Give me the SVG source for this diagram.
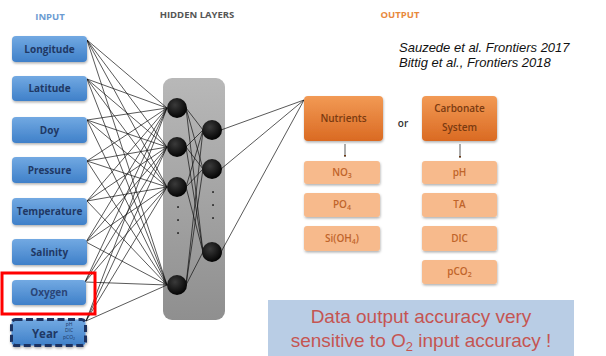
<svg xmlns="http://www.w3.org/2000/svg" width="606" height="356" viewBox="0 0 606 356">
<defs>
<linearGradient id="gBlue" x1="0" y1="0" x2="0" y2="1"><stop offset="0" stop-color="#72A9E2"/><stop offset="1" stop-color="#3F80C9"/></linearGradient>
<linearGradient id="gOrange" x1="0" y1="0" x2="0" y2="1"><stop offset="0" stop-color="#F29A55"/><stop offset="1" stop-color="#DA6A22"/></linearGradient>
<linearGradient id="gGray" x1="0" y1="0" x2="0" y2="1"><stop offset="0" stop-color="#B8B8B8"/><stop offset="1" stop-color="#8F8F8F"/></linearGradient>
<radialGradient id="gNode" cx="0.4" cy="0.35" r="0.7"><stop offset="0" stop-color="#3a3a3a"/><stop offset="1" stop-color="#000"/></radialGradient>
<filter id="sh" x="-10%" y="-10%" width="130%" height="140%"><feDropShadow dx="0.5" dy="1.5" stdDeviation="1" flood-color="#000" flood-opacity="0.3"/></filter>
<marker id="arr" viewBox="0 0 10 10" refX="9" refY="5" markerWidth="3.5" markerHeight="3.5" orient="auto"><path d="M0,0 L10,5 L0,10 z" fill="#6B3812"/></marker>
</defs>
<style>
.in rect{fill:url(#gBlue);filter:url(#sh)}
.in text{font-family:"Open Sans","Liberation Sans",sans-serif;font-weight:bold;font-size:10px;fill:#1F3864;text-anchor:middle}
.hd{font-family:"Open Sans","Liberation Sans",sans-serif;font-weight:bold;font-size:9.5px;text-anchor:middle}
.conn line{stroke:#111;stroke-width:0.7}
.node circle{fill:url(#gNode)}
.dk rect{fill:url(#gOrange);filter:url(#sh)}
.dk text{font-family:"Open Sans","Liberation Sans",sans-serif;font-weight:600;font-size:10px;fill:#7A3A10;text-anchor:middle}
.lt rect{fill:#F7BA8C;filter:url(#sh)}
.lt text{font-family:"Open Sans","Liberation Sans",sans-serif;font-weight:600;font-size:10px;fill:#C0642A;text-anchor:middle}
.dot{fill:#222}
</style>
<rect width="606" height="356" fill="#fff"/>
<text class="hd" x="50" y="20" fill="#6C9BD2">INPUT</text>
<text class="hd" x="197" y="18" fill="#555">HIDDEN LAYERS</text>
<text class="hd" x="400" y="18" fill="#E8893C">OUTPUT</text>
<g font-family="Liberation Sans, Arial, sans-serif" font-style="italic" font-size="13" fill="#111">
<text x="399" y="52">Sauzede et al. Frontiers 2017</text>
<text x="399" y="67">Bittig et al., Frontiers 2018</text>
</g>
<g id="hidden-panel"><rect x="163" y="78" width="62" height="242" rx="9" fill="url(#gGray)"/></g>
<g id="connectors" class="conn">
<line x1="87" y1="40" x2="167" y2="108"/><line x1="87" y1="40" x2="167" y2="147"/><line x1="87" y1="40" x2="167" y2="187"/><line x1="87" y1="40" x2="167" y2="285"/>
<line x1="87" y1="79" x2="167" y2="108"/><line x1="87" y1="79" x2="167" y2="147"/><line x1="87" y1="79" x2="167" y2="187"/><line x1="87" y1="79" x2="167" y2="285"/>
<line x1="87" y1="120" x2="167" y2="108"/><line x1="87" y1="120" x2="167" y2="147"/><line x1="87" y1="120" x2="167" y2="187"/><line x1="87" y1="120" x2="167" y2="285"/>
<line x1="87" y1="161" x2="167" y2="108"/><line x1="87" y1="161" x2="167" y2="147"/><line x1="87" y1="161" x2="167" y2="187"/><line x1="87" y1="161" x2="167" y2="285"/>
<line x1="87" y1="201" x2="167" y2="108"/><line x1="87" y1="201" x2="167" y2="147"/><line x1="87" y1="201" x2="167" y2="187"/><line x1="87" y1="201" x2="167" y2="285"/>
<line x1="86" y1="242" x2="167" y2="108"/><line x1="86" y1="242" x2="167" y2="147"/><line x1="86" y1="242" x2="167" y2="187"/><line x1="86" y1="242" x2="167" y2="285"/>
<line x1="85" y1="282" x2="167" y2="108"/><line x1="85" y1="282" x2="167" y2="147"/><line x1="85" y1="282" x2="167" y2="187"/><line x1="85" y1="282" x2="167" y2="285"/>
<line x1="86" y1="321" x2="167" y2="108"/><line x1="86" y1="321" x2="167" y2="147"/><line x1="86" y1="321" x2="167" y2="187"/><line x1="86" y1="321" x2="167" y2="285"/>
<line x1="186" y1="108" x2="203" y2="130"/><line x1="186" y1="108" x2="203" y2="169"/><line x1="186" y1="108" x2="203" y2="252"/>
<line x1="186" y1="147" x2="203" y2="130"/><line x1="186" y1="147" x2="203" y2="169"/><line x1="186" y1="147" x2="203" y2="252"/>
<line x1="186" y1="187" x2="203" y2="130"/><line x1="186" y1="187" x2="203" y2="169"/><line x1="186" y1="187" x2="203" y2="252"/>
<line x1="186" y1="285" x2="203" y2="130"/><line x1="186" y1="285" x2="203" y2="169"/><line x1="186" y1="285" x2="203" y2="252"/>
<line x1="221" y1="130" x2="304" y2="100"/><line x1="221" y1="169" x2="304" y2="100"/><line x1="221" y1="252" x2="304" y2="100"/>
<line x1="345" y1="144" x2="345" y2="157" stroke="#6B3812" stroke-width="1.6" marker-end="url(#arr)"/>
<line x1="460" y1="144" x2="460" y2="158" stroke="#6B3812" stroke-width="2" marker-end="url(#arr)"/>
</g>
<g id="input-nodes" class="in">
<g id="in-longitude"><rect x="12" y="36" width="75" height="26" rx="4"/><text x="49.5" y="53">Longitude</text></g>
<g id="in-latitude"><rect x="12" y="76" width="75" height="25" rx="4"/><text x="49.5" y="92">Latitude</text></g>
<g id="in-doy"><rect x="12" y="117" width="75" height="26" rx="4"/><text x="49.5" y="134">Doy</text></g>
<g id="in-pressure"><rect x="12" y="157" width="75" height="26" rx="4"/><text x="49.5" y="174">Pressure</text></g>
<g id="in-temperature"><rect x="12" y="198" width="75" height="27" rx="4"/><text x="49.5" y="215">Temperature</text></g>
<g id="in-salinity"><rect x="12" y="239" width="75" height="26" rx="4"/><text x="49.5" y="256">Salinity</text></g>
<g id="in-oxygen"><rect x="12" y="280" width="74" height="25" rx="4"/><text x="49" y="296" style="fill:#2A4577">Oxygen</text></g>
<g id="in-year"><rect x="11.5" y="319.5" width="74" height="26" rx="4" stroke="#1F3060" stroke-width="3" stroke-dasharray="7,3.5"/><text x="45" y="337.5" style="font-size:11.5px">Year</text>
<text x="69" y="326" style="font-size:5px;font-weight:normal">pH</text><text x="69" y="332" style="font-size:5px;font-weight:normal">DIC</text><text x="69" y="338.5" style="font-size:5px;font-weight:normal">pCO<tspan font-size="3.5" dy="1">2</tspan></text></g>
</g>
<g id="oxygen-highlight"><rect x="2" y="273" width="93" height="41" fill="none" stroke="#FF0000" stroke-width="3"/></g>
<g id="hidden-nodes" class="node">
<g id="h1-1"><circle cx="177" cy="108" r="10"/></g>
<g id="h1-2"><circle cx="177" cy="147" r="10"/></g>
<g id="h1-3"><circle cx="177" cy="187" r="10"/></g>
<g id="h1-4"><circle cx="177" cy="285" r="10"/></g>
<g id="h2-1"><circle cx="212" cy="130" r="10"/></g>
<g id="h2-2"><circle cx="212" cy="169" r="10"/></g>
<g id="h2-3"><circle cx="212" cy="252" r="10"/></g>
<circle class="dot" cx="178" cy="207" r="0.9"/><circle class="dot" cx="178" cy="220" r="0.9"/><circle class="dot" cx="178" cy="233" r="0.9"/>
<circle class="dot" cx="213" cy="192" r="0.9"/><circle class="dot" cx="213" cy="205" r="0.9"/><circle class="dot" cx="213" cy="218" r="0.9"/>
</g>
<g id="out-nutrients" class="dk"><rect x="304" y="96" width="79" height="45" rx="4"/><text x="343.5" y="122">Nutrients</text></g>
<text x="403" y="127" font-family="Open Sans, Liberation Sans, sans-serif" font-weight="600" font-size="10" fill="#333" text-anchor="middle">or</text>
<g id="out-carbonate" class="dk"><rect x="422" y="96" width="75" height="45" rx="4"/><text x="459.5" y="112">Carbonate</text><text x="459.5" y="131">System</text></g>
<g class="lt">
<g id="out-no3"><rect x="304" y="161" width="76" height="23" rx="3"/><text x="342" y="176">NO<tspan font-size="7" dy="2">3</tspan></text></g>
<g id="out-po4"><rect x="304" y="193" width="76" height="24" rx="3"/><text x="342" y="208">PO<tspan font-size="7" dy="2">4</tspan></text></g>
<g id="out-sioh4"><rect x="304" y="226" width="76" height="25" rx="3"/><text x="342" y="242">Si(OH<tspan font-size="7" dy="2">4</tspan><tspan dy="-2">)</tspan></text></g>
<g id="out-ph"><rect x="422" y="161" width="75" height="23" rx="3"/><text x="459.5" y="176">pH</text></g>
<g id="out-ta"><rect x="422" y="193" width="75" height="24" rx="3"/><text x="459.5" y="208">TA</text></g>
<g id="out-dic"><rect x="422" y="226" width="75" height="25" rx="3"/><text x="459.5" y="242">DIC</text></g>
<g id="out-pco2"><rect x="422" y="260" width="75" height="24" rx="3"/><text x="459.5" y="275">pCO<tspan font-size="7" dy="2">2</tspan></text></g>
</g>
<g id="note"><rect x="268" y="300" width="306" height="56" fill="#B9CDE5"/>
<g font-family="Liberation Sans, Arial, sans-serif" font-size="19" fill="#C55552" text-anchor="middle">
<text x="421" y="323">Data output accuracy very</text>
<text x="421" y="347">sensitive to O<tspan font-size="13" dy="4">2</tspan><tspan dy="-4"> input accuracy !</tspan></text>
</g></g>
</svg>
